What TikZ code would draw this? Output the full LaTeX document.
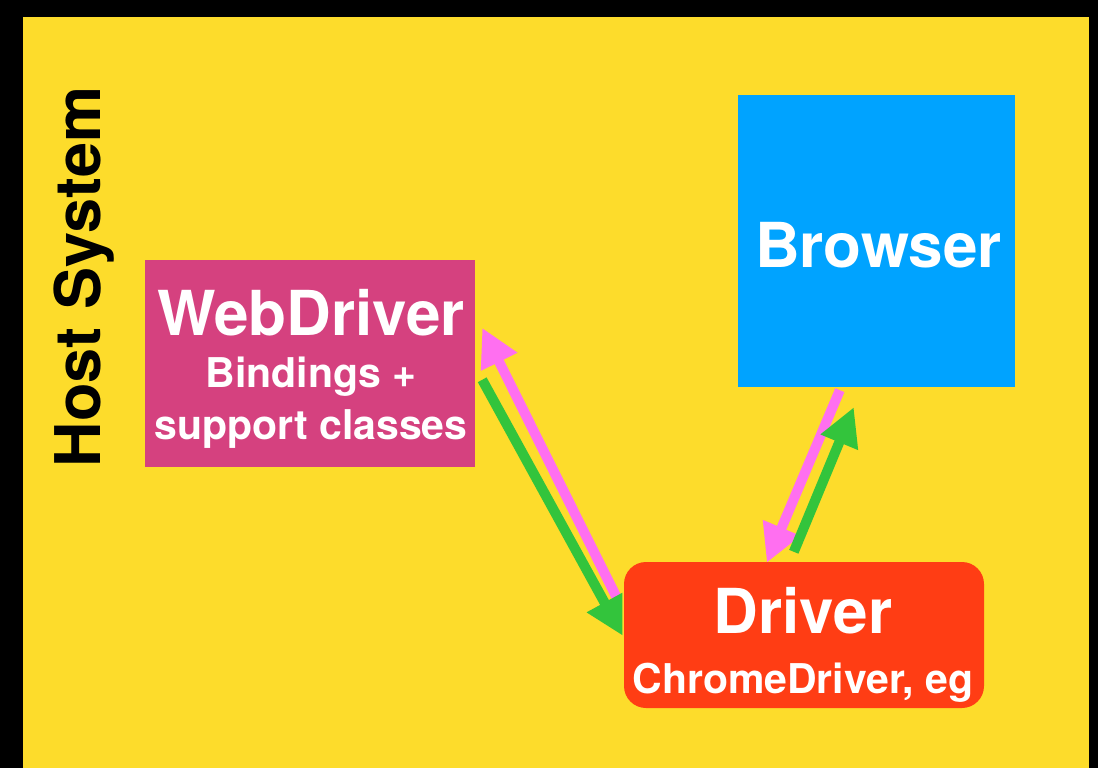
\documentclass[tikz,border=0pt]{standalone}
\usepackage{fontspec}
\setmainfont{TeX Gyre Heros}
\usetikzlibrary{arrows.meta}

\definecolor{hostyellow}{HTML}{FDDC2B}
\definecolor{webpink}{HTML}{D5417F}
\definecolor{browserblue}{HTML}{00A3FF}
\definecolor{driverred}{HTML}{FF3D14}
\definecolor{callpink}{HTML}{FF6FF0}
\definecolor{replygreen}{HTML}{33C43C}

\tikzset{
  box/.style={inner sep=0pt, draw=none},
  bigtext/.style={text=white, font=\bfseries\fontsize{62}{62}\selectfont},
  smalltext/.style={text=white, align=center, font=\bfseries\fontsize{41}{52}\selectfont},
  flow/.style={line width=10pt, -{Triangle[width=38pt,length=38pt]}}
}

\begin{document}
\begin{tikzpicture}[x=1pt, y=-1pt]
    % Frame and host area
    \fill[black] (0,0) rectangle (1098,768);
    \fill[hostyellow] (23,17) rectangle (1089,768);
    \useasboundingbox (0,0) rectangle (1098,768);
    \node[rotate=90, font=\bfseries\fontsize{63}{63}\selectfont] (host) at (84,277) {Host System};

    % Boxes
    \node[box, fill=webpink, minimum width=330pt, minimum height=207pt] (web) at (310,363.5) {};
    \node[box, fill=browserblue, minimum width=277pt, minimum height=292pt] (brw) at (876.5,241) {};
    \node[box, fill=driverred, rounded corners=22pt, minimum width=360pt, minimum height=146pt] (drv) at (804,635) {};

    % Box texts
    \node[smalltext] (webtxt) at ([shift={(1,5.5)}]web.center) {{\fontsize{62}{52}\selectfont WebDriver}\\Bindings +\\support classes};
    \node[bigtext] (brwtxt) at ([shift={(2,4)}]brw.center) {Browser};
    \node[smalltext, font=\bfseries\fontsize{41}{60}\selectfont] (drvtxt) at ([shift={(-1,10)}]drv.center) {{\fontsize{62}{60}\selectfont Driver}\\ChromeDriver, eg};

    % WebDriver <-> Driver
    \draw[flow, callpink] ([shift={(-7,36)}]drv.north west) -- ([shift={(7,68)}]web.north east);
    \draw[flow, replygreen] ([shift={(7,120)}]web.north east) -- ([shift={(-1,74)}]drv.north west);

    % Driver <-> Browser
    \draw[flow, callpink] ([shift={(102,3)}]brw.south west) -- ([shift={(143,1)}]drv.north west);
    \draw[flow, replygreen] ([shift={(170,-10)}]drv.north west) -- ([shift={(116,20)}]brw.south west);
\end{tikzpicture}
\end{document}
